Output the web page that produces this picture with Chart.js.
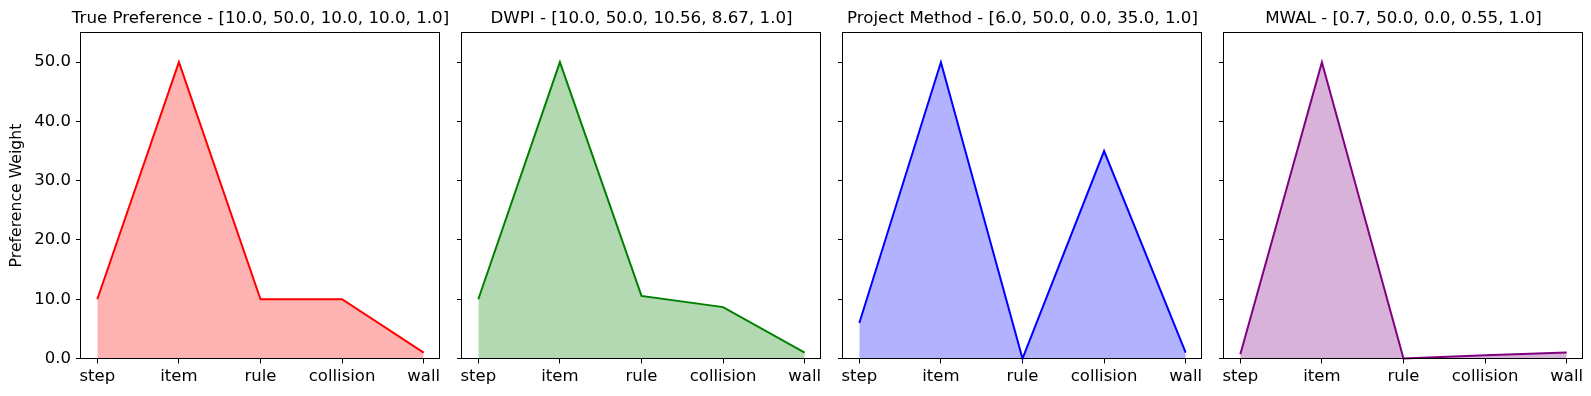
<!DOCTYPE html>
<html>
<head>
<meta charset="utf-8">
<script src="https://cdn.jsdelivr.net/npm/chart.js@4.4.1/dist/chart.umd.min.js"></script>
<style>
  html, body { margin: 0; padding: 0; background: #fff; }
  body { width: 1591px; height: 396px; position: relative; overflow: hidden; }
  canvas { position: absolute; top: 0; }
</style>
</head>
<body>
<canvas id="c0"></canvas>
<canvas id="c1"></canvas>
<canvas id="c2"></canvas>
<canvas id="c3"></canvas>
<script>
// ---- data ----
const features = ["step", "item", "rule", "collision", "wall"];
const trueWeights = [10.0, 50.0, 10.0, 10.0, 1.0];
const dwpiWeights = [10.0, 50.0, 10.56, 8.67, 1.0];
const projectWeights = [6.0, 50.0, 0.0, 35.0, 1.0];
const mwalWeights = [0.7, 50.0, 0.0, 0.55, 1.0];
const yTicks = [0, 10, 20, 30, 40, 50];

// ---- layout (pixels) ----
const AX_LEFTS = [81, 462, 843, 1224];
const AX_W = 359;
const H = 396;
const FONT = 16.5;

Chart.defaults.font.family = "'DejaVu Sans', sans-serif";

// black box around each plot area, like matplotlib spines
const frame = {
  id: "frame",
  afterDatasetsDraw(chart) {
    const { ctx, chartArea: a } = chart;
    const px = v => Math.round(v) - 0.5;
    ctx.save();
    ctx.strokeStyle = "#000";
    ctx.lineWidth = 1;
    ctx.strokeRect(px(a.left), px(a.top), px(a.right) - px(a.left), px(a.bottom) - px(a.top));
    ctx.restore();
  }
};

function fmt(v) {
  return Number.isInteger(v) ? v.toFixed(1) : String(v);
}

function drawPanel(idx, name, values, color, fill) {
  const first = idx === 0;
  const side = first ? 81 : 10;
  const canvas = document.getElementById("c" + idx);
  canvas.width = side * 2 + AX_W;
  canvas.height = H;
  canvas.style.left = (AX_LEFTS[idx] - side) + "px";

  new Chart(canvas, {
    type: "line",
    data: {
      datasets: [{
        data: values.map((v, i) => ({ x: i, y: v })),
        borderColor: color,
        backgroundColor: fill,
        borderWidth: 2,
        pointRadius: 0,
        fill: "origin",
        tension: 0,
        clip: false
      }]
    },
    options: {
      responsive: false,
      animation: false,
      devicePixelRatio: 1,
      layout: { padding: 0 },
      plugins: {
        legend: { display: false },
        tooltip: { enabled: false },
        title: {
          display: true,
          text: name + " - [" + values.map(fmt).join(", ") + "]",
          color: "#000",
          font: { size: 16.7, weight: "normal" },
          padding: { top: 8.6, bottom: 3.9 }
        }
      },
      scales: {
        x: {
          type: "linear",
          min: -0.2,
          max: 4.2,
          afterBuildTicks: s => { s.ticks = features.map((f, i) => ({ value: i })); },
          ticks: {
            callback: v => features[v],
            color: "#000",
            font: { size: FONT },
            padding: 3,
            maxRotation: 0,
            autoSkip: false
          },
          grid: { drawOnChartArea: false, color: "#000", tickLength: 5 },
          border: { display: false },
          afterFit: s => { s.height = 37.5; }
        },
        y: {
          type: "linear",
          min: 0,
          max: 55,
          afterBuildTicks: s => { s.ticks = yTicks.map(v => ({ value: v })); },
          ticks: {
            callback: v => first ? v.toFixed(1) : "",
            color: "#000",
            font: { size: FONT },
            padding: 5
          },
          grid: { drawOnChartArea: false, color: "#000", tickLength: 5 },
          border: { display: false },
          title: {
            display: first,
            text: "Preference Weight",
            color: "#000",
            font: { size: 15.7 },
            padding: { top: 8, bottom: 0 }
          },
          afterFit: s => { s.width = side; }
        },
        // empty axis on the right so the title centres over the plot area
        y2: {
          type: "linear",
          position: "right",
          grid: { display: false },
          border: { display: false },
          ticks: { display: false },
          afterFit: s => { s.width = side; }
        }
      }
    },
    plugins: [frame]
  });
}

drawPanel(0, "True Preference", trueWeights, "red", "rgba(255,0,0,0.3)");
drawPanel(1, "DWPI", dwpiWeights, "green", "rgba(0,128,0,0.3)");
drawPanel(2, "Project Method", projectWeights, "blue", "rgba(0,0,255,0.3)");
drawPanel(3, "MWAL", mwalWeights, "purple", "rgba(128,0,128,0.3)");
</script>
</body>
</html>
